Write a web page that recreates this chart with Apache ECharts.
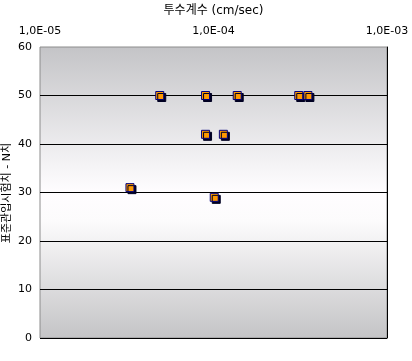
<!DOCTYPE html>
<html><head><meta charset="utf-8">
<script src="https://cdn.jsdelivr.net/npm/echarts@6/dist/echarts.min.js"></script>
<style>html,body{margin:0;padding:0;background:#fff}#c{width:412px;height:361px}</style>
</head><body><div id="c"></div>
<script>
const xTitle = '투수계수 (cm/sec)';
const yTitle = '표준관입시험치 - N치';
const permeability = [4.9e-5, 9.0e-5, 1.37e-4, 3.1e-4, 3.5e-4, 9.0e-5, 1.14e-4, 3.3e-5, 1.01e-4];
const nValues = [50, 50, 50, 50, 50, 42, 42, 31, 29];
const xMin = 1e-5, xMax = 1e-3;
const yMin = 0, yMax = 60, yStep = 10;

const font = 'DejaVu Sans, Noto Sans CJK KR, sans-serif';
function fmtExp(v) {
  const e = Math.round(Math.log10(v));
  const sign = e < 0 ? '-' : '+';
  const a = Math.abs(e);
  return '1,0E' + sign + (a < 10 ? '0' + a : a);
}
const chart = echarts.init(document.getElementById('c'));
chart.setOption({
  animation: false,
  textStyle: { fontFamily: font },
  grid: {
    left: 40, right: 25, top: 44, bottom: 23, show: true,
    borderColor: '#8c8c8c', borderWidth: 1,
    backgroundColor: new echarts.graphic.LinearGradient(0, 0, 0, 1, [
      { offset: 0, color: '#c4c4c7' },
      { offset: 0.42, color: '#f6f5f7' },
      { offset: 0.5, color: '#fffdff' },
      { offset: 0.6, color: '#fcfbfc' },
      { offset: 1, color: '#c4c4c6' }
    ])
  },
  xAxis: {
    type: 'log', logBase: 10, min: xMin, max: xMax, position: 'top',
    name: xTitle, nameLocation: 'middle', nameGap: 30,
    nameTextStyle: { fontSize: 12, color: '#000', fontFamily: font },
    axisLine: { show: false }, axisTick: { show: false },
    splitLine: { show: false },
    axisLabel: { color: '#000', fontSize: 11, margin: 10, formatter: fmtExp }
  },
  yAxis: [{
    type: 'value', min: yMin, max: yMax, interval: yStep, position: 'left',
    axisLine: { show: false }, axisTick: { show: false },
    axisLabel: { color: '#000', fontSize: 11, margin: 8 },
    splitLine: { show: true, showMinLine: true, showMaxLine: false, lineStyle: { color: '#000', width: 1 } }
  }, {
    type: 'value', min: yMin, max: yMax, interval: yStep, position: 'right',
    axisLine: { show: true, lineStyle: { color: '#000', width: 1 } },
    axisTick: { show: false }, axisLabel: { show: false }, splitLine: { show: false }
  }],
  graphic: [{
    type: 'text', left: 2, top: 143, rotation: Math.PI / 2,
    style: { text: yTitle, fontSize: 11, fill: '#000', fontFamily: font }
  }],
  series: [{
    type: 'scatter', yAxisIndex: 0,
    data: permeability.map((p, i) => [p, nValues[i]]),
    symbol: 'rect', symbolSize: 8,
    itemStyle: {
      color: '#ff9900', borderColor: '#000080', borderWidth: 1, opacity: 1,
      shadowColor: '#000022', shadowBlur: 0, shadowOffsetX: 2, shadowOffsetY: 2
    }
  }]
});
</script></body></html>
